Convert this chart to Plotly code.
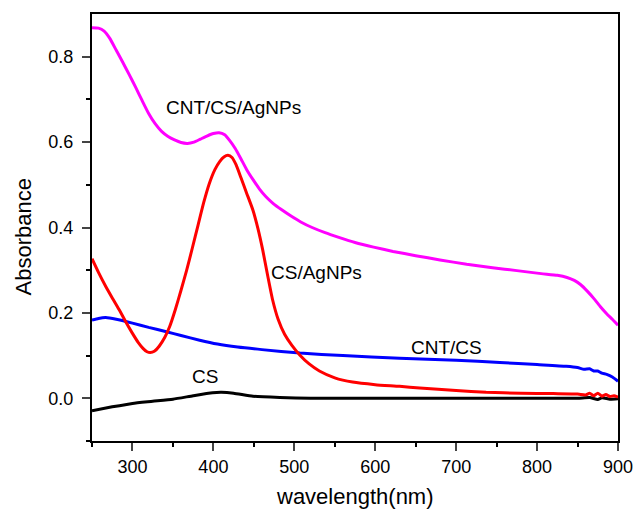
import plotly.graph_objects as go

# CNT/CS/AgNPs (magenta)
wl_m = [250, 258, 265, 272, 280, 288, 296, 304, 312, 320, 328, 336, 344, 352, 360, 368, 376, 384,
        392, 400, 407, 414, 420, 427, 434, 441, 449, 457, 465, 474, 484, 495, 508, 522, 538, 555,
        575, 598, 622, 650, 680, 713, 745, 775, 805, 825, 837, 846, 854, 862, 870, 878, 886, 893, 900]
ab_m = [0.868, 0.867, 0.860, 0.843, 0.815, 0.787, 0.758, 0.728, 0.697, 0.667, 0.643, 0.625, 0.613,
        0.605, 0.599, 0.597, 0.600, 0.607, 0.614, 0.620, 0.622, 0.617, 0.604, 0.585, 0.561, 0.536,
        0.512, 0.490, 0.472, 0.456, 0.442, 0.428, 0.413, 0.400, 0.388, 0.377, 0.365, 0.354, 0.344,
        0.334, 0.324, 0.314, 0.306, 0.299, 0.292, 0.288, 0.283, 0.276, 0.266, 0.251, 0.234, 0.215,
        0.198, 0.185, 0.171]

# CS/AgNPs (red)
wl_r = [250, 258, 267, 276, 284, 292, 300, 307, 313, 318, 322, 327, 333, 340, 346, 353, 360, 367,
        374, 381, 388, 395, 402, 408, 413, 418, 423, 428, 434, 441, 449, 455, 461, 467, 473, 480,
        488, 497, 507, 518, 531, 550, 572, 600, 630, 655, 700, 737, 780, 820, 850, 860, 865, 870,
        875, 880, 885, 890, 895, 900]
ab_r = [0.327, 0.295, 0.262, 0.232, 0.206, 0.178, 0.152, 0.131, 0.117, 0.109, 0.107, 0.110, 0.122,
        0.143, 0.168, 0.208, 0.253, 0.300, 0.352, 0.405, 0.458, 0.503, 0.536, 0.555, 0.565, 0.569,
        0.564, 0.547, 0.517, 0.481, 0.440, 0.398, 0.347, 0.288, 0.232, 0.185, 0.150, 0.124, 0.101,
        0.081, 0.064, 0.048, 0.038, 0.032, 0.028, 0.024, 0.018, 0.014, 0.012, 0.011, 0.010, 0.008,
        0.012, 0.006, 0.012, 0.005, 0.009, 0.004, 0.006, 0.003]

# CNT/CS (blue)
wl_b = [250, 258, 267, 280, 300, 320, 342, 360, 383, 405, 430, 460, 507, 560, 630, 700, 754, 800,
        836, 850, 858, 865, 870, 875, 880, 886, 893, 900]
ab_b = [0.183, 0.187, 0.189, 0.185, 0.176, 0.166, 0.156, 0.147, 0.136, 0.127, 0.120, 0.114, 0.106,
        0.100, 0.094, 0.089, 0.084, 0.079, 0.075, 0.072, 0.068, 0.069, 0.064, 0.064, 0.059, 0.056,
        0.050, 0.040]

# CS (black)
wl_k = [250, 275, 300, 325, 350, 375, 399, 410, 425, 449, 482, 520, 600, 700, 800, 850, 865, 875,
        880, 890, 900]
ab_k = [-0.029, -0.020, -0.012, -0.007, -0.002, 0.006, 0.013, 0.014, 0.012, 0.005, 0.002, 0.000,
        0.000, 0.000, 0.000, 0.000, 0.002, -0.003, 0.001, -0.002, -0.001]

x_ticks = [300, 400, 500, 600, 700, 800, 900]
y_ticks = [0.0, 0.2, 0.4, 0.6, 0.8]
y_tick_text = ["0.0", "0.2", "0.4", "0.6", "0.8"]

labels = ["CNT/CS/AgNPs", "CS/AgNPs", "CNT/CS", "CS"]
label_x = [425, 528, 688, 390]
label_y = [0.680, 0.295, 0.120, 0.051]

FONT = "Liberation Sans, Arial, sans-serif"

fig = go.Figure()
for xs, ys, col in [(wl_k, ab_k, "#000000"), (wl_b, ab_b, "#0000ff"),
                    (wl_r, ab_r, "#ff0000"), (wl_m, ab_m, "#ff00ff")]:
    fig.add_trace(go.Scatter(x=xs, y=ys, mode="lines",
                             line=dict(color=col, width=3, shape="spline", smoothing=0.5),
                             showlegend=False, hoverinfo="skip"))

for t, lx, ly in zip(labels, label_x, label_y):
    fig.add_annotation(x=lx, y=ly, text=t, showarrow=False, xanchor="center", yanchor="middle",
                       font=dict(family=FONT, size=19, color="black"))

fig.add_annotation(x=0.5, y=-0.131, xref="paper", yref="paper", text="wavelength(nm)",
                   showarrow=False, xanchor="center", yanchor="middle",
                   font=dict(family=FONT, size=22, color="black"))
fig.add_annotation(x=-0.130, y=0.478, xref="paper", yref="paper", text="Absorbance",
                   textangle=-90, showarrow=False, xanchor="center", yanchor="middle",
                   font=dict(family=FONT, size=22, color="black"))

fig.update_layout(
    width=634, height=510,
    margin=dict(l=92, r=16, t=14, b=69, autoexpand=False),
    paper_bgcolor="white", plot_bgcolor="white",
    font=dict(family=FONT, size=18, color="black"),
)
fig.update_xaxes(range=[250, 900], tickvals=x_ticks, ticks="outside", ticklen=8, tickwidth=1.5,
                 showline=True, linecolor="black", linewidth=2, mirror=True, showgrid=False,
                 zeroline=False, tickfont=dict(size=18), automargin=False,
                 minor=dict(tickvals=[250, 350, 450, 550, 650, 750, 850], ticks="outside",
                            ticklen=4, tickwidth=1.5, tickcolor="black"))
fig.update_yaxes(range=[-0.1, 0.9], tickvals=y_ticks, ticktext=y_tick_text, ticks="outside",
                 ticklen=8, tickwidth=1.5, showline=True, linecolor="black", linewidth=2,
                 mirror=True, showgrid=False, zeroline=False, tickfont=dict(size=18),
                 automargin=False, ticklabelstandoff=5,
                 minor=dict(tickvals=[-0.1, 0.1, 0.3, 0.5, 0.7], ticks="outside",
                            ticklen=4, tickwidth=1.5, tickcolor="black"))

fig.write_html("out.html")
